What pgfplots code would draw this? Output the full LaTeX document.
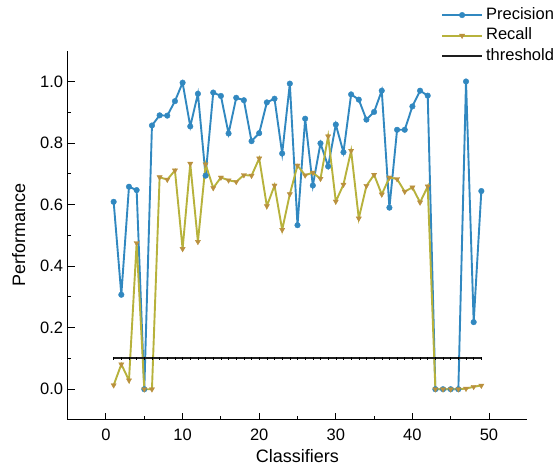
\documentclass[border=0pt]{standalone}
\usepackage{pgfplots}
\pgfplotsset{compat=1.18}
\usepackage{fontspec}
\setmainfont{Liberation Sans}
\definecolor{precblue}{RGB}{49,136,192}
\definecolor{recline}{RGB}{183,178,60}
\definecolor{recmark}{RGB}{186,145,62}
\definecolor{thr}{RGB}{30,30,30}
\begin{document}
\begin{tikzpicture}
\useasboundingbox (-67.7pt,-50pt) rectangle (491.3pt,420pt);
\begin{axis}[
  at={(0,0)}, anchor=south west,
  scale only axis,
  width=459.6pt, height=369.3pt,
  xmin=-5, xmax=55, ymin=-0.1, ymax=1.1,
  axis lines*=left,
  axis line style={line width=1pt, black},
  tick align=inside,
  major tick length=7pt, minor tick length=3.5pt,
  every tick/.style={line width=1pt, black},
  xtick={0,10,...,50}, minor x tick num=1,
  ytick={0,0.2,...,1.0}, minor y tick num=1,
  /pgf/number format/assume math mode=true,
  ticklabel style={font=\fontsize{16.5}{16.5}\selectfont},
  xticklabel style={yshift=-5pt},
  yticklabel style={/pgf/number format/fixed, /pgf/number format/fixed zerofill, /pgf/number format/precision=1, xshift=-1pt},
  label style={font=\fontsize{18}{18}\selectfont},
  xlabel={Classifiers},
  ylabel={Performance},
  xlabel style={yshift=-2.5pt},
  ylabel style={yshift=8pt},
  legend cell align=left,
  legend image code/.code={\draw[mark repeat=2,mark phase=2,#1] plot coordinates {(0pt,0pt) (20pt,0pt) (40pt,0pt)};},
  legend style={draw=none, fill=none, at={(rel axis cs:0.812,1.118)}, anchor=north west,
    font=\fontsize{16.5}{16.5}\selectfont, inner sep=0pt, row sep=5pt,
    nodes={inner xsep=3pt, inner ysep=0pt, text height=12pt, text depth=3.5pt}},
  clip=false,
]
\addplot[color=precblue, line width=1.9pt, mark=*, mark size=2.8pt, mark options={fill=precblue, draw=precblue, line width=0.4pt}] coordinates {
(1,0.609) (2,0.307) (3,0.658) (4,0.647) (5,0.0) (6,0.857) (7,0.890) (8,0.889) (9,0.936) (10,0.996)
(11,0.854) (12,0.960) (13,0.694) (14,0.964) (15,0.953) (16,0.831) (17,0.947) (18,0.939) (19,0.806) (20,0.832)
(21,0.932) (22,0.944) (23,0.766) (24,0.993) (25,0.533) (26,0.879) (27,0.662) (28,0.799) (29,0.724) (30,0.860)
(31,0.770) (32,0.958) (33,0.941) (34,0.876) (35,0.901) (36,0.970) (37,0.590) (38,0.843) (39,0.843) (40,0.919)
(41,0.970) (42,0.954) (43,0) (44,0) (45,0) (46,0) (47,1.0) (48,0.218) (49,0.644)
};
\addlegendentry{Precision}
\addplot[color=recline, line width=1.9pt, mark=triangle*, mark size=3pt, mark options={fill=recmark, draw=recmark, line width=0.4pt, rotate=180}] coordinates {
(1,0.013) (2,0.081) (3,0.029) (4,0.475) (5,0.0) (6,0.0) (7,0.689) (8,0.681) (9,0.711) (10,0.456)
(11,0.733) (12,0.479) (13,0.731) (14,0.654) (15,0.688) (16,0.679) (17,0.674) (18,0.696) (19,0.694) (20,0.750)
(21,0.595) (22,0.662) (23,0.518) (24,0.634) (25,0.727) (26,0.695) (27,0.704) (28,0.684) (29,0.822) (30,0.610)
(31,0.665) (32,0.775) (33,0.555) (34,0.661) (35,0.697) (36,0.633) (37,0.688) (38,0.683) (39,0.642) (40,0.656)
(41,0.607) (42,0.659) (43,0) (44,0) (45,0) (46,0) (47,0.002) (48,0.008) (49,0.012)
};
\addlegendentry{Recall}
\addplot[color=thr, line width=2pt, mark=none] coordinates {
(1,0.1) (49,0.1)
};
\addlegendentry{threshold}
\addplot[color=black, line width=0.5pt, only marks, mark=|, mark size=1.3pt, forget plot] coordinates {
(1,0.1) (2,0.1) (3,0.1) (4,0.1) (5,0.1) (6,0.1) (7,0.1) (8,0.1) (9,0.1) (10,0.1)
(11,0.1) (12,0.1) (13,0.1) (14,0.1) (15,0.1) (16,0.1) (17,0.1) (18,0.1) (19,0.1) (20,0.1)
(21,0.1) (22,0.1) (23,0.1) (24,0.1) (25,0.1) (26,0.1) (27,0.1) (28,0.1) (29,0.1) (30,0.1)
(31,0.1) (32,0.1) (33,0.1) (34,0.1) (35,0.1) (36,0.1) (37,0.1) (38,0.1) (39,0.1) (40,0.1)
(41,0.1) (42,0.1) (43,0.1) (44,0.1) (45,0.1) (46,0.1) (47,0.1) (48,0.1) (49,0.1)
};
\end{axis}
\end{tikzpicture}
\end{document}
